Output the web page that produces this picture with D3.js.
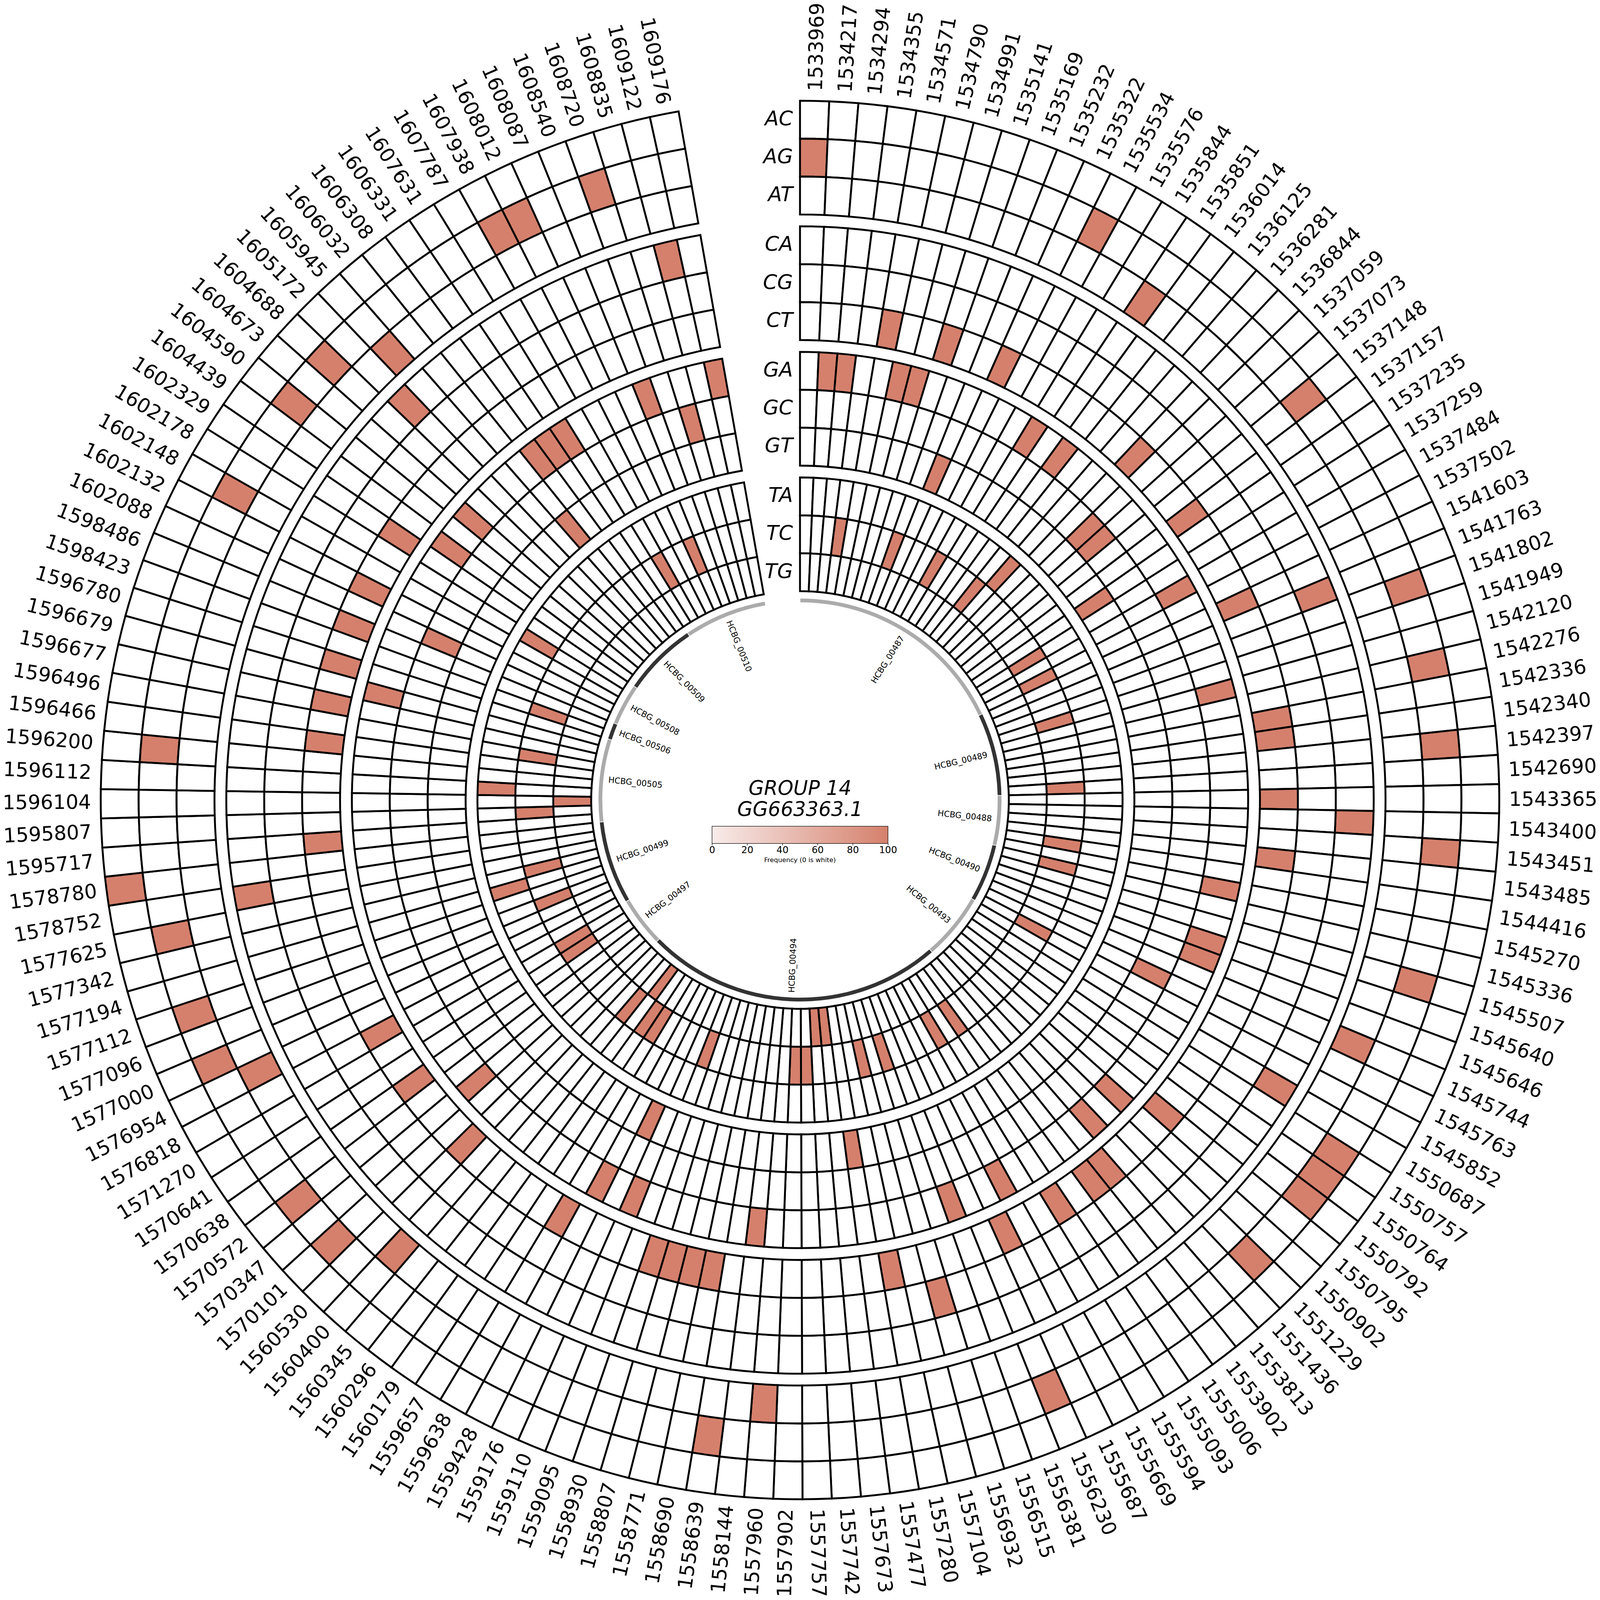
<!DOCTYPE html>
<html>
<head>
<meta charset="utf-8">
<title>GROUP 14 GG663363.1</title>
<script src="https://d3js.org/d3.v7.min.js"></script>
<style>
  html, body { margin: 0; padding: 0; background: #fff; overflow: hidden; }
  svg { display: block; width: 100vw; height: 100vh; }
  text { font-family: "DejaVu Sans", sans-serif; fill: #000; }
</style>
</head>
<body>
<script>
// genome positions, clockwise from the top
const positions = [
  1533969,1534217,1534294,1534355,1534571,1534790,1534991,1535141,1535169,1535232,
  1535322,1535534,1535576,1535844,1535851,1536014,1536125,1536281,1536844,1537059,
  1537073,1537148,1537157,1537235,1537259,1537484,1537502,1541603,1541763,1541802,
  1541949,1542120,1542276,1542336,1542340,1542397,1542690,1543365,1543400,1543451,
  1543485,1544416,1545270,1545336,1545507,1545640,1545646,1545744,1545763,1545852,
  1550687,1550757,1550764,1550792,1550795,1550902,1551229,1551436,1553813,1553902,
  1555006,1555093,1555594,1555669,1555687,1556230,1556381,1556515,1556932,1557104,
  1557280,1557477,1557673,1557742,1557757,1557902,1557960,1558144,1558639,1558690,
  1558771,1558807,1558930,1559095,1559110,1559176,1559428,1559638,1559657,1560179,
  1560296,1560345,1560400,1560530,1570101,1570347,1570572,1570638,1570641,1571270,
  1576818,1576954,1577000,1577096,1577112,1577194,1577342,1577625,1578752,1578780,
  1595717,1595807,1596104,1596112,1596200,1596466,1596496,1596677,1596679,1596780,
  1598423,1598486,1602088,1602132,1602148,1602178,1602329,1604439,1604590,1604673,
  1604688,1605172,1605945,1606032,1606308,1606331,1607631,1607787,1607938,1608012,
  1608087,1608540,1608720,1608835,1609122,1609176
]

// which substitution is seen at each position (same order as positions)
const substitutions = [
  "AG","GA","GA","TC","CT","GA","GA","CT","TC","GT",
  "CT","AG","TC","GA","AT","GA","TC","TA","CT","GC",
  "GC","AG","CT","GT","TC","GA","TC","CT","CA","AG",
  "TC","GA","AG","CT","CT","AG","TC","CT","CA","AG",
  "CT","TC","GA","TC","AG","GA","GA","AT","GC","TC",
  "CA","AG","AG","AG","CT","GA","AG","GA","CT","CT",
  "TC","CT","TC","GA","CT","AG","GA","TC","CG","TC",
  "CT","GT","TG","TG","TC","TC","AT","GA","AG","CT",
  "CT","CT","CT","TC","GA","GT","GA","CT","TC","TC",
  "TG","TC","AT","CT","AG","GA","AG","CT","TC","TC",
  "CT","AT","AG","TC","AG","TA","TC","AG","CA","AC",
  "CT","TC","TG","TA","AG","CT","TC","CT","GA","CT",
  "TC","CT","GC","CT","AG","TA","CT","GA","AG","GA",
  "AG","CA","AT","GT","GA","GA","GA","TC","AG","AG",
  "TC","GA","AG","GC","CA","GA"
]
const frequency = 100

// heatmap rings, outermost first
const ringNames = ["A", "C", "G", "T"]
const rowNames = {
  A: ["AC", "AG", "AT"],
  C: ["CA", "CG", "CT"],
  G: ["GA", "GC", "GT"],
  T: ["TA", "TC", "TG"]
}

// genes and how many positions fall into each one
const geneNames = ["HCBG_00487","HCBG_00489","HCBG_00488","HCBG_00490","HCBG_00493","HCBG_00494",
  "HCBG_00497","HCBG_00499","HCBG_00505","HCBG_00506","HCBG_00508","HCBG_00509","HCBG_00510"]
const geneSizes = [27, 10, 6, 7, 8, 36, 6, 10, 10, 2, 5, 9, 10]

const colorTicks = [0, 20, 40, 60, 80, 100]

var size = 6766
var cx = 3383
var cy = 3383
var deg = Math.PI / 180

var svg = d3.select("body").append("svg")
  .attr("viewBox", "0 0 " + size + " " + size)

var color = d3.scaleLinear().domain([0, 100]).range(["#f8ecea", "#d5806c"])

var angle = d3.scaleBand().domain(d3.range(positions.length)).range([0, 350 * deg])

// rings are spaced on the radius, rows split each ring
var ringScale = d3.scaleBand().domain(ringNames.slice().reverse()).range([883, 2957]).paddingInner(50 / 531)
var rowScale = {}
ringNames.forEach(function(ring) {
  rowScale[ring] = d3.scaleBand().domain(rowNames[ring].slice().reverse())
    .range([ringScale(ring), ringScale(ring) + ringScale.bandwidth()])
})

var chart = svg.append("g").attr("transform", "translate(" + cx + "," + cy + ")")

var arc = d3.arc()

// one cell per position and row
var cells = []
ringNames.forEach(function(ring) {
  rowNames[ring].forEach(function(row) {
    positions.forEach(function(p, i) {
      cells.push({ ring: ring, row: row, i: i, value: substitutions[i] === row ? frequency : 0 })
    })
  })
})

chart.append("g").selectAll("path")
  .data(cells)
  .enter()
  .append("path")
    .attr("d", function(d) {
      var r0 = rowScale[d.ring](d.row)
      return arc({
        innerRadius: r0,
        outerRadius: r0 + rowScale[d.ring].bandwidth(),
        startAngle: angle(d.i),
        endAngle: angle(d.i) + angle.bandwidth()
      })
    })
    .attr("fill", d => d.value > 0 ? color(d.value) : "#fff")
    .attr("stroke", "#000")
    .attr("stroke-width", 8)

// position labels around the outside
var labelRadius = 2998
chart.append("g").selectAll("text")
  .data(positions)
  .enter()
  .append("text")
    .attr("font-size", 84)
    .attr("dy", function(d, i) { return midDeg(i) > 180 ? "0.25em" : "0.36em" })
    .attr("text-anchor", function(d, i) { return midDeg(i) > 180 ? "end" : "start" })
    .attr("transform", function(d, i) {
      var a = midDeg(i)
      return "rotate(" + (a - 90) + ") translate(" + labelRadius + ",0)" + (a > 180 ? " rotate(180)" : "")
    })
    .text(d => d)

function midDeg(i) {
  return (angle(i) + angle.bandwidth() / 2) / deg
}

// row labels on the start line
ringNames.forEach(function(ring) {
  chart.append("g").selectAll("text")
    .data(rowNames[ring])
    .enter()
    .append("text")
      .attr("x", -30)
      .attr("y", d => -(rowScale[ring](d) + rowScale[ring].bandwidth() / 2))
      .attr("dy", "0.28em")
      .attr("text-anchor", "end")
      .attr("font-size", 86)
      .attr("font-style", "italic")
      .text(d => d)
})

// gene track
var genes = []
var start = 0
geneNames.forEach(function(name, k) {
  genes.push({ name: name, first: start, last: start + geneSizes[k] - 1, k: k })
  start += geneSizes[k]
})

chart.append("g").selectAll("path")
  .data(genes)
  .enter()
  .append("path")
    .attr("d", function(d) {
      return arc({
        innerRadius: 836,
        outerRadius: 852,
        startAngle: angle(d.first) + 0.1 * deg,
        endAngle: angle(d.last) + angle.bandwidth() - 0.1 * deg
      })
    })
    .attr("fill", d => d.k % 2 === 0 ? "#ababab" : "#333333")

chart.append("g").selectAll("text")
  .data(genes)
  .enter()
  .append("text")
    .attr("font-size", 35)
    .attr("dy", "0.2em")
    .attr("text-anchor", "middle")
    .attr("transform", function(d) {
      var a = (angle(d.first) + angle(d.last) + angle.bandwidth()) / 2 / deg
      return "rotate(" + (a - 90) + ") translate(700,0)" + (a > 180 ? " rotate(180)" : "")
    })
    .text(d => d.name)

// title
svg.append("text").attr("x", cx).attr("y", 3362).attr("text-anchor", "middle")
  .attr("font-size", 84).attr("font-style", "italic").text("GROUP 14")
svg.append("text").attr("x", cx).attr("y", 3451).attr("text-anchor", "middle")
  .attr("font-size", 84).attr("font-style", "italic").text("GG663363.1")

// colour bar
var barX = d3.scaleLinear().domain([0, 100]).range([3011, 3755])
var barTop = 3494
var barHeight = 73

var gradient = svg.append("defs").append("linearGradient").attr("id", "freq")
gradient.selectAll("stop")
  .data(colorTicks)
  .enter()
  .append("stop")
    .attr("offset", d => d + "%")
    .attr("stop-color", d => color(d))

svg.append("rect")
  .attr("x", barX(0))
  .attr("y", barTop)
  .attr("width", barX(100) - barX(0))
  .attr("height", barHeight)
  .attr("fill", "url(#freq)")
  .attr("stroke", "#000")
  .attr("stroke-width", 2)

var barAxis = svg.append("g")
  .attr("transform", "translate(0," + (barTop + barHeight) + ")")
  .call(d3.axisBottom(barX).tickValues(colorTicks).tickSize(8).tickPadding(5))
barAxis.select(".domain").remove()
barAxis.selectAll("line").attr("stroke", "#000").attr("stroke-width", 2)
barAxis.selectAll("text").attr("font-size", 40).attr("font-family", "DejaVu Sans")

svg.append("text").attr("x", cx).attr("y", 3646).attr("text-anchor", "middle")
  .attr("font-size", 27.4).text("Frequency (0 is white)")
</script>
</body>
</html>
